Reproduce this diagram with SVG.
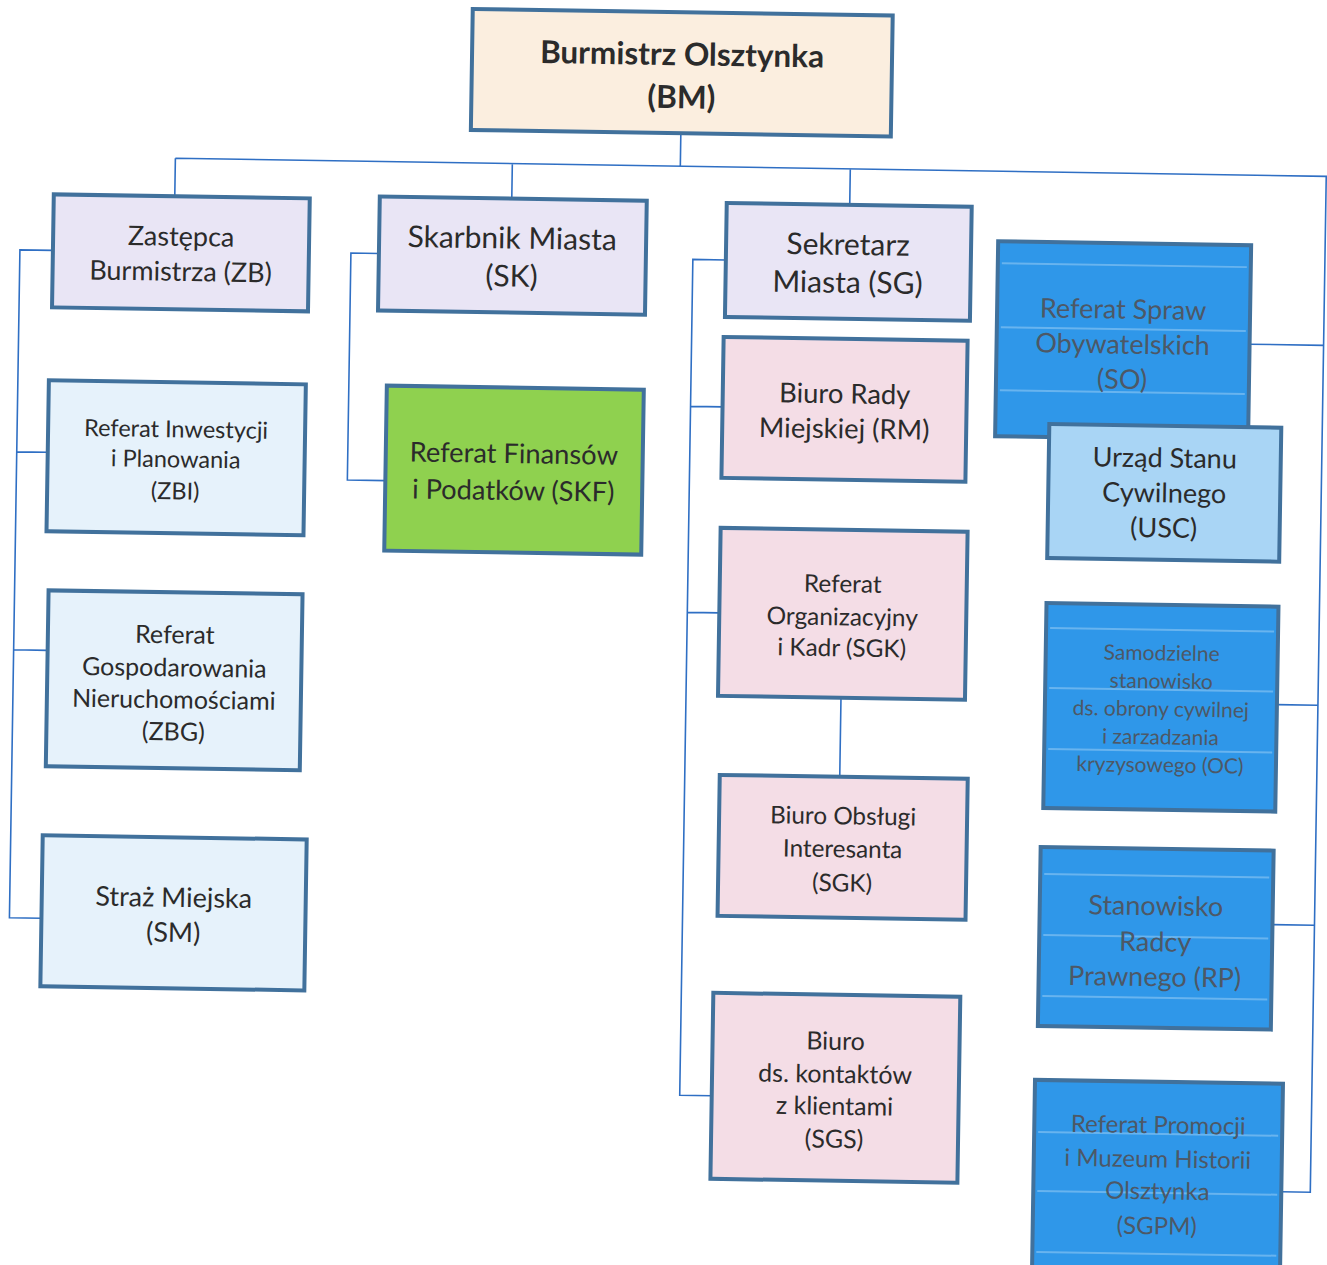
<svg xmlns="http://www.w3.org/2000/svg" width="1327" height="1265" viewBox="0 0 1327 1265">
<style>
.box{stroke:#41719c;stroke-width:4}
.bm{fill:#fbeedf}
.lav{fill:#e9e5f5}
.lb{fill:#e6f2fb}
.gr{fill:#8fd14f}
.pk{fill:#f4dde6}
.bl{fill:#2f97e9}
.usc{fill:#a9d5f5}
.scan{stroke:#ffffff;stroke-opacity:0.28;stroke-width:2}
.c{fill:none;stroke:#2f6fc4;stroke-width:1.6}
text{font-family:Lato,"Liberation Sans",sans-serif;fill:#2b2b2b;text-anchor:middle;dominant-baseline:central}
.b{font-weight:bold}
.g{fill:#4d5866}
</style>
<rect width="1327" height="1265" fill="#ffffff"/>
<g transform="rotate(0.9 663 632)">
<g id="connectors">
<path class="c" d="M673 133V166M168 166H1319V1182H1290M168 166V204M505 166V201M843 166V202"/>
<path class="c" d="M47 260H14V928H46M14 462H45M14 660H48"/>
<path class="c" d="M373 258H345V485H383"/>
<path class="c" d="M720 259H687V1095H719M687 406H719M687 612H719M842 695V774"/>
<path class="c" d="M1245 335H1319M1278 695H1319M1277 915H1319"/>
</g>
<g id="node-bm"><rect class="box bm" x="463" y="12" width="420" height="121"/>
<text class="b" x="673" y="53" font-size="31.5">Burmistrz Olsztynka</text>
<text class="b" x="673" y="96" font-size="31.5">(BM)</text></g>
<g id="node-zb"><rect class="box lav" x="47" y="204" width="256" height="113"/>
<text x="175" y="243" font-size="27">Zastępca</text>
<text x="175" y="278" font-size="27">Burmistrza (ZB)</text></g>
<g id="node-sk"><rect class="box lav" x="373" y="201" width="267" height="114"/>
<text x="506" y="239" font-size="30">Skarbnik Miasta</text>
<text x="506" y="277" font-size="30">(SK)</text></g>
<g id="node-sg"><rect class="box lav" x="720" y="202" width="245" height="114"/>
<text x="842" y="240" font-size="30">Sekretarz</text>
<text x="842" y="278" font-size="30">Miasta (SG)</text></g>
<g id="node-zbi"><rect class="box lb" x="45" y="390" width="257" height="151"/>
<text x="173" y="436" font-size="23.5">Referat Inwestycji</text>
<text x="173" y="466" font-size="23.5">i Planowania</text>
<text x="173" y="498" font-size="23.5">(ZBI)</text></g>
<g id="node-skf"><rect class="box gr" x="383" y="390" width="257" height="165"/>
<text x="511" y="455" font-size="27.3">Referat Finansów</text>
<text x="511" y="492" font-size="27.3">i Podatków (SKF)</text></g>
<g id="node-zbg"><rect class="box lb" x="48" y="600" width="254" height="176"/>
<text x="175" y="641" font-size="25">Referat</text>
<text x="175" y="674" font-size="25">Gospodarowania</text>
<text x="175" y="706" font-size="25">Nieruchomościami</text>
<text x="175" y="738" font-size="25">(ZBG)</text></g>
<g id="node-sm"><rect class="box lb" x="46" y="845" width="264" height="151"/>
<text x="178" y="904" font-size="27">Straż Miejska</text>
<text x="178" y="939" font-size="27">(SM)</text></g>
<g id="node-rm"><rect class="box pk" x="719" y="336" width="244" height="141"/>
<text x="841" y="390" font-size="27.4">Biuro Rady</text>
<text x="841" y="425" font-size="27.4">Miejskiej (RM)</text></g>
<g id="node-sgk"><rect class="box pk" x="719" y="527" width="247" height="168"/>
<text x="842" y="580" font-size="24.4">Referat</text>
<text x="842" y="613" font-size="24.4">Organizacyjny</text>
<text x="842" y="644" font-size="24.4">i Kadr (SGK)</text></g>
<g id="node-boi"><rect class="box pk" x="722" y="774" width="248" height="141"/>
<text x="846" y="812" font-size="24.3">Biuro Obsługi</text>
<text x="846" y="845" font-size="24.3">Interesanta</text>
<text x="846" y="879" font-size="24.3">(SGK)</text></g>
<g id="node-sgs"><rect class="box pk" x="719" y="992" width="247" height="186"/>
<text x="842" y="1037" font-size="25">Biuro</text>
<text x="842" y="1070" font-size="25">ds. kontaktów</text>
<text x="842" y="1102" font-size="25">z klientami</text>
<text x="842" y="1135" font-size="25">(SGS)</text></g>
<g id="node-so"><rect class="box bl" x="992" y="236" width="253" height="195"/>
<path class="scan" d="M996 258H1241M996 322H1241M996 385H1241"/>
<text class="g" x="1118" y="301" font-size="27">Referat Spraw</text>
<text class="g" x="1118" y="336" font-size="27">Obywatelskich</text>
<text class="g" x="1118" y="371" font-size="27">(SO)</text></g>
<g id="node-usc"><rect class="box usc" x="1046" y="418" width="232" height="134"/>
<text x="1162" y="449" font-size="27">Urząd Stanu</text>
<text x="1162" y="484" font-size="27">Cywilnego</text>
<text x="1162" y="519" font-size="27">(USC)</text></g>
<g id="node-oc"><rect class="box bl" x="1046" y="597" width="232" height="205"/>
<path class="scan" d="M1050 622H1274M1050 682H1274M1050 743H1274"/>
<text class="g" x="1162" y="644" font-size="21">Samodzielne</text>
<text class="g" x="1162" y="672" font-size="21">stanowisko</text>
<text class="g" x="1162" y="700" font-size="21">ds. obrony cywilnej</text>
<text class="g" x="1162" y="728" font-size="21">i zarzadzania</text>
<text class="g" x="1162" y="756" font-size="21">kryzysowego (OC)</text></g>
<g id="node-rp"><rect class="box bl" x="1044" y="841" width="233" height="179"/>
<path class="scan" d="M1048 868H1273M1048 929H1273M1048 990H1273"/>
<text class="g" x="1160" y="897" font-size="27">Stanowisko</text>
<text class="g" x="1160" y="933" font-size="27">Radcy</text>
<text class="g" x="1160" y="968" font-size="27">Prawnego (RP)</text></g>
<g id="node-sgpm"><rect class="box bl" x="1042" y="1074" width="248" height="200"/>
<path class="scan" d="M1046 1126H1286M1046 1185H1286M1046 1246H1286"/>
<text class="g" x="1166" y="1116" font-size="24">Referat Promocji</text>
<text class="g" x="1166" y="1150" font-size="24">i Muzeum Historii</text>
<text class="g" x="1166" y="1182" font-size="24">Olsztynka</text>
<text class="g" x="1166" y="1217" font-size="24">(SGPM)</text></g>
</g>
</svg>
